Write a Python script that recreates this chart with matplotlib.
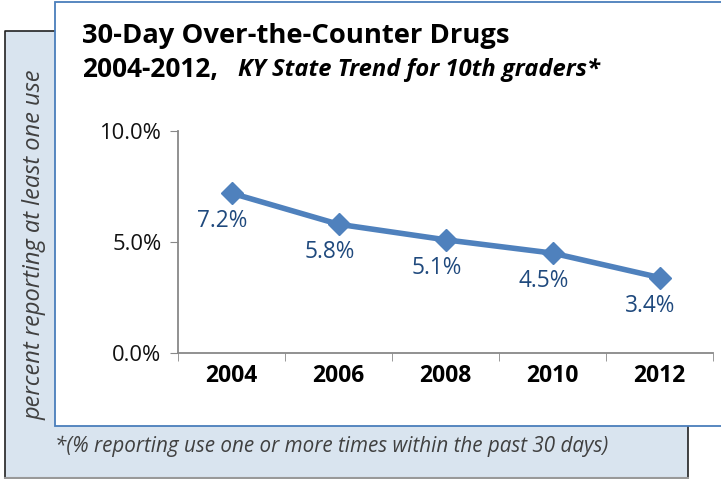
import matplotlib
matplotlib.use("Agg")
import matplotlib.pyplot as plt
from matplotlib.patches import Rectangle

years = ["2004", "2006", "2008", "2010", "2012"]
values = [0.072, 0.058, 0.051, 0.045, 0.034]
labels = ["7.2%", "5.8%", "5.1%", "4.5%", "3.4%"]
yticks = [0.0, 0.05, 0.10]
ytick_labels = ["0.0%", "5.0%", "10.0%"]

W, H = 721, 479
plt.rcParams['font.family'] = ['Open Sans', 'DejaVu Sans']
fig = plt.figure(figsize=(W / 100, H / 100), dpi=100)

def fx(px):
    return px / W

def fy(py):
    return 1 - py / H

# gray background box
fig.patches.append(Rectangle((fx(5), fy(478)), fx(688) - fx(5), fy(31) - fy(478),
                             transform=fig.transFigure, facecolor="#D9E4EF",
                             edgecolor="none", zorder=0))
fig.add_artist(plt.Line2D([fx(5), fx(5), fx(688), fx(688)], [fy(478), fy(31), fy(31), fy(478)],
                          transform=fig.transFigure, color="#222222", lw=1.2, zorder=1))
fig.add_artist(plt.Line2D([fx(5), fx(688)], [fy(478), fy(478)],
                          transform=fig.transFigure, color="#999999", lw=1.5, zorder=1))
# white chart box
fig.patches.append(Rectangle((fx(55), fy(426)), fx(730) - fx(55), fy(2) - fy(426),
                             transform=fig.transFigure, facecolor="white",
                             edgecolor="#4A7EBB", lw=1.3, zorder=2))

ax = fig.add_axes([fx(178), fy(353), fx(713) - fx(178), fy(131) - fy(353)])
ax.set_zorder(3)
ax.patch.set_alpha(0)
x = list(range(len(years)))
ax.plot(x, values, color="#4F81BD", lw=4, marker="D", markersize=11,
        markerfacecolor="#4F81BD", markeredgecolor="#4F81BD", solid_capstyle="round")
for xi, v, lab in zip(x, values, labels):
    ax.annotate(lab, (xi, v), xytext=(-9, -28), textcoords="offset pixels",
                ha="center", va="center", fontsize=16.3, color="#1F497D")

ax.set_xlim(-0.5, len(years) - 0.5)
ax.set_ylim(0, 0.10)
ax.set_yticks(yticks)
ax.set_yticklabels(ytick_labels, fontsize=15.8, color="#111111")
ax.set_xticks(x)
ax.set_xticklabels(years, fontsize=16.5, fontweight="bold", color="black")
ax.set_xticks([i - 0.5 for i in range(len(years) + 1)], minor=True)
ax.tick_params(axis="x", which="major", length=0, pad=8)
ax.tick_params(axis="x", which="minor", length=6, color="#888888", direction="out")
ax.tick_params(axis="y", length=6, color="#888888", direction="out", pad=6)
for s in ["top", "right"]:
    ax.spines[s].set_visible(False)
for s in ["left", "bottom"]:
    ax.spines[s].set_color("#888888")
    ax.spines[s].set_linewidth(1.3)

fig.canvas.draw()
renderer = fig.canvas.get_renderer()

def fit(t, target_px, horizontal=True):
    for _ in range(4):
        bb = t.get_window_extent(renderer)
        cur = bb.width if horizontal else bb.height
        t.set_fontsize(t.get_fontsize() * target_px / cur)
    return t

# title
t0 = fig.text(fx(82), fy(36), "30-Day Over-the-Counter Drugs", fontsize=19, fontweight="bold",
              ha="left", va="center", zorder=5)
fit(t0, 509 - 82)
t1 = fig.text(fx(82), fy(70), "2004-2012,", fontsize=19, fontweight="bold",
              ha="left", va="center", zorder=5)
fit(t1, 218 - 82)
t2 = fig.text(fx(238), fy(70), "KY State Trend for 10th graders*", fontsize=15,
              fontweight="bold", fontstyle="italic", ha="left", va="center", zorder=5)
fit(t2, 600 - 238)

# y label
t3 = fig.text(fx(35), fy(245), "percent reporting at least one use", rotation=90, fontsize=16,
              fontstyle="italic", color="#404040", ha="center", va="center", zorder=5)
fit(t3, 350, horizontal=False)
# footnote
t4 = fig.text(fx(55), fy(446), "*(% reporting use one or more times within the past 30 days)",
              fontsize=14, fontstyle="italic", color="#404040", ha="left", va="center", zorder=5)
fit(t4, 610 - 55)

fig.savefig("out.png", dpi=100)
